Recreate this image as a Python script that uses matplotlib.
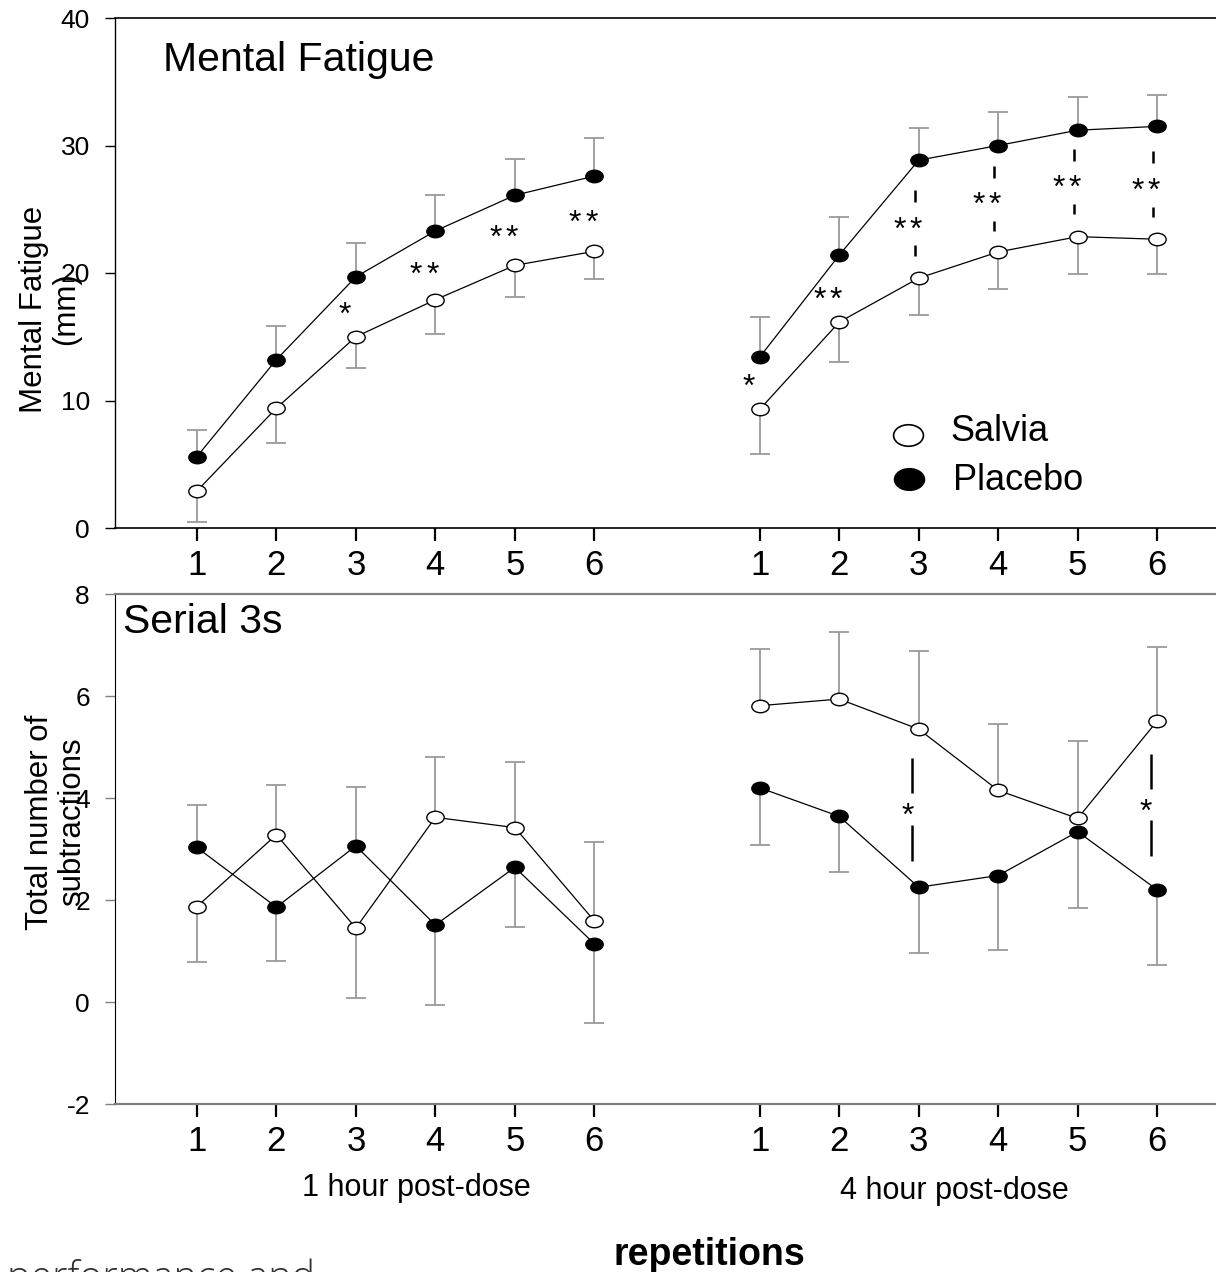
import numpy as np
import matplotlib
matplotlib.use("Agg")
import matplotlib.pyplot as plt
from matplotlib.path import Path

plt.rcParams['font.family'] = ['Liberation Sans', 'DejaVu Sans']

# repetitions and the x offset of the 4 hour block
reps = [1, 2, 3, 4, 5, 6]
offset_4h = 7.08
tick_labels = ['1', '2', '3', '4', '5', '6']

# Mental fatigue (mm)
fatigue_salvia_1h = [2.9, 9.4, 15.0, 17.9, 20.6, 21.7]
fatigue_salvia_1h_se = [2.4, 2.7, 2.45, 2.65, 2.45, 2.2]
fatigue_placebo_1h = [5.6, 13.2, 19.7, 23.3, 26.1, 27.6]
fatigue_placebo_1h_se = [2.1, 2.65, 2.65, 2.85, 2.85, 2.95]
fatigue_salvia_4h = [9.3, 16.15, 19.6, 21.65, 22.85, 22.65]
fatigue_salvia_4h_se = [3.5, 3.1, 2.9, 2.9, 2.9, 2.75]
fatigue_placebo_4h = [13.4, 21.4, 28.85, 30.0, 31.2, 31.5]
fatigue_placebo_4h_se = [3.15, 3.0, 2.55, 2.6, 2.6, 2.5]

# Serial 3s (total number of subtractions)
serial_salvia_1h = [1.87, 3.28, 1.45, 3.62, 3.42, 1.59]
serial_salvia_1h_se = [1.08, 0.98, 1.38, 1.18, 1.28, 1.54]
serial_placebo_1h = [3.03, 1.86, 3.06, 1.51, 2.64, 1.14]
serial_placebo_1h_se = [0.83, 1.05, 1.15, 1.56, 1.17, 1.56]
serial_salvia_4h = [5.81, 5.94, 5.35, 4.15, 3.60, 5.51]
serial_salvia_4h_se = [1.11, 1.31, 1.53, 1.30, 1.52, 1.45]
serial_placebo_4h = [4.20, 3.64, 2.25, 2.48, 3.34, 2.20]
serial_placebo_4h_se = [1.12, 1.09, 1.28, 1.46, 1.50, 1.48]

# significance marks (number of stars)
fatigue_star_reps_1h = [3, 4, 5, 6]
fatigue_star_n_1h = [1, 2, 2, 2]
fatigue_star_y_1h = [17.4, 20.5, 23.4, 24.6]
fatigue_star_reps_4h = [1, 2, 3, 4, 5, 6]
fatigue_star_n_4h = [1, 2, 2, 2, 2, 2]
fatigue_star_y_4h = [11.7, 18.55, 24.07, 25.96, 27.3, 27.1]
fatigue_dash_reps_4h = [3, 4, 5, 6]
serial_star_reps_4h = [3, 6]
serial_star_n_4h = [1, 1]
serial_star_y_4h = [3.81, 3.9]

err_gray = '#9a9a9a'
axis_gray = '#808080'

# slightly flattened circle, like the original markers
circ = Path.unit_circle()
ell = Path(circ.vertices * np.array([1.0, 0.72]), circ.codes)


def draw_series(ax, xs, y, y_other, se, filled):
    y = np.array(y)
    se = np.array(se)
    up = y >= np.array(y_other)
    end = np.where(up, y + se, y - se)
    ax.vlines(xs, y, end, color=err_gray, lw=1.3, zorder=1)
    ax.plot(xs, end, ls='none', marker='_', ms=14.5, mew=1.3, color=err_gray, zorder=1)
    ax.plot(xs, y, color='black', lw=0.9, marker=ell, ms=12.5,
            mfc='black' if filled else 'white', mec='black', mew=1.0, zorder=3)


def draw_stars(ax, xs, counts, ys):
    for x, n, y in zip(xs, counts, ys):
        offs = [0] if n == 1 else [-5.8, 5.8]
        for dx in offs:
            ax.annotate('*', (x - 0.14, y), xytext=(dx, -12.5), textcoords='offset points',
                        ha='center', va='baseline', fontsize=23, zorder=4)


def draw_gap_line(ax, x, sy, up0, up1, lo0, lo1):
    ax.vlines([x, x], [sy + up0, sy - lo1], [sy + up1, sy - lo0],
              color='black', lw=1.8, zorder=2)


x1 = np.array(reps, dtype=float)
x4 = x1 + offset_4h

fig = plt.figure(figsize=(12.16, 12.72), dpi=100)
ax1 = fig.add_axes([115 / 1216, 1 - 528 / 1272, 1 - 115 / 1216, 510 / 1272])
ax2 = fig.add_axes([115 / 1216, 1 - 1104 / 1272, 1 - 115 / 1216, 510 / 1272])

# ---- top panel: mental fatigue
draw_series(ax1, x1, fatigue_salvia_1h, fatigue_placebo_1h, fatigue_salvia_1h_se, False)
draw_series(ax1, x1, fatigue_placebo_1h, fatigue_salvia_1h, fatigue_placebo_1h_se, True)
draw_series(ax1, x4, fatigue_salvia_4h, fatigue_placebo_4h, fatigue_salvia_4h_se, False)
draw_series(ax1, x4, fatigue_placebo_4h, fatigue_salvia_4h, fatigue_placebo_4h_se, True)
draw_stars(ax1, np.array(fatigue_star_reps_1h), fatigue_star_n_1h, fatigue_star_y_1h)
draw_stars(ax1, np.array(fatigue_star_reps_4h) + offset_4h, fatigue_star_n_4h, fatigue_star_y_4h)
for r in fatigue_dash_reps_4h:
    sy = fatigue_star_y_4h[fatigue_star_reps_4h.index(r)]
    draw_gap_line(ax1, r + offset_4h - 0.05, sy, 1.5, 2.45, 1.9, 2.7)

ax1.set_ylim(0, 40)
ax1.set_yticks([0, 10, 20, 30, 40])
fig.text(163 / 1216, 1 - 71 / 1272, 'Mental Fatigue', fontsize=29.5, va='baseline', ha='left')

# legend drawn by hand at the lower right of the top panel
fig.lines.append(plt.Line2D([908 / 1216], [1 - 435 / 1272], transform=fig.transFigure,
                            marker=ell, ms=21.5, mfc='white', mec='black', mew=1.2, ls='none'))
fig.lines.append(plt.Line2D([909 / 1216], [1 - 479 / 1272], transform=fig.transFigure,
                            marker=ell, ms=21.5, mfc='black', mec='black', mew=1.2, ls='none'))
fig.text(950 / 1216, 1 - 441 / 1272, 'Salvia', fontsize=26, va='baseline')
fig.text(953 / 1216, 1 - 490 / 1272, 'Placebo', fontsize=26, va='baseline')

# ---- bottom panel: serial 3s
draw_series(ax2, x1, serial_salvia_1h, serial_placebo_1h, serial_salvia_1h_se, False)
draw_series(ax2, x1, serial_placebo_1h, serial_salvia_1h, serial_placebo_1h_se, True)
draw_series(ax2, x4, serial_salvia_4h, serial_placebo_4h, serial_salvia_4h_se, False)
draw_series(ax2, x4, serial_placebo_4h, serial_salvia_4h, serial_placebo_4h_se, True)
draw_stars(ax2, np.array(serial_star_reps_4h) + offset_4h, serial_star_n_4h, serial_star_y_4h)
for r, sy in zip(serial_star_reps_4h, serial_star_y_4h):
    draw_gap_line(ax2, r + offset_4h - 0.08, sy, 0.28, 0.97, 0.33, 1.04)

ax2.set_ylim(-2, 8)
ax2.set_yticks([-2, 0, 2, 4, 6, 8])
ax2.set_yticklabels(['-2', '0', '2', '4', '6', '8'])
fig.text(123 / 1216, 1 - 633 / 1272, 'Serial 3s', fontsize=29.5, va='baseline', ha='left')

for ax in (ax1, ax2):
    ax.set_xlim(-0.03, 13.82)
    ax.set_xticks(list(x1) + list(x4))
    ax.set_xticklabels(tick_labels + tick_labels)
    ax.spines['right'].set_visible(False)
    ax.tick_params(axis='x', direction='out', length=9, width=1.6, pad=6,
                   labelsize=25, color='black')
    ax.tick_params(axis='y', direction='out', length=7, width=1.0, pad=11,
                   labelsize=19)

for s in ('left', 'bottom', 'top'):
    ax1.spines[s].set_color('black')
ax1.spines['left'].set_linewidth(1.0)
ax1.spines['bottom'].set_linewidth(1.2)
ax1.spines['top'].set_linewidth(1.2)
ax2.spines['left'].set_color('black')
ax2.spines['top'].set_color(axis_gray)
ax2.spines['bottom'].set_color(axis_gray)
ax2.spines['top'].set_linewidth(1.6)
ax2.spines['bottom'].set_linewidth(1.6)
ax2.tick_params(axis='y', color=axis_gray)

# axis labels
fig.text(50 / 1216, 1 - 309 / 1272, 'Mental Fatigue\n(mm)', rotation=90,
         ha='center', va='center', multialignment='center', fontsize=22.5, linespacing=1.1)
fig.text(56 / 1216, 1 - 822 / 1272, 'Total number of\nsubtractions', rotation=90,
         ha='center', va='center', multialignment='center', fontsize=22.5, linespacing=1.1)
fig.text(416 / 1216, 1 - 1196 / 1272, '1 hour post-dose', ha='center', va='baseline', fontsize=22)
fig.text(954 / 1216, 1 - 1199 / 1272, '4 hour post-dose', ha='center', va='baseline', fontsize=22)
fig.text(709 / 1216, 1 - 1265 / 1272, 'repetitions', ha='center', va='baseline',
         fontsize=27, fontweight='bold')
fig.text(7 / 1216, 1 - 1290 / 1272, 'performance and', ha='left', va='baseline',
         fontsize=28.5, color='#303030', family=['Open Sans', 'DejaVu Sans'], fontweight='light')

fig.savefig('out.png', dpi=100)
